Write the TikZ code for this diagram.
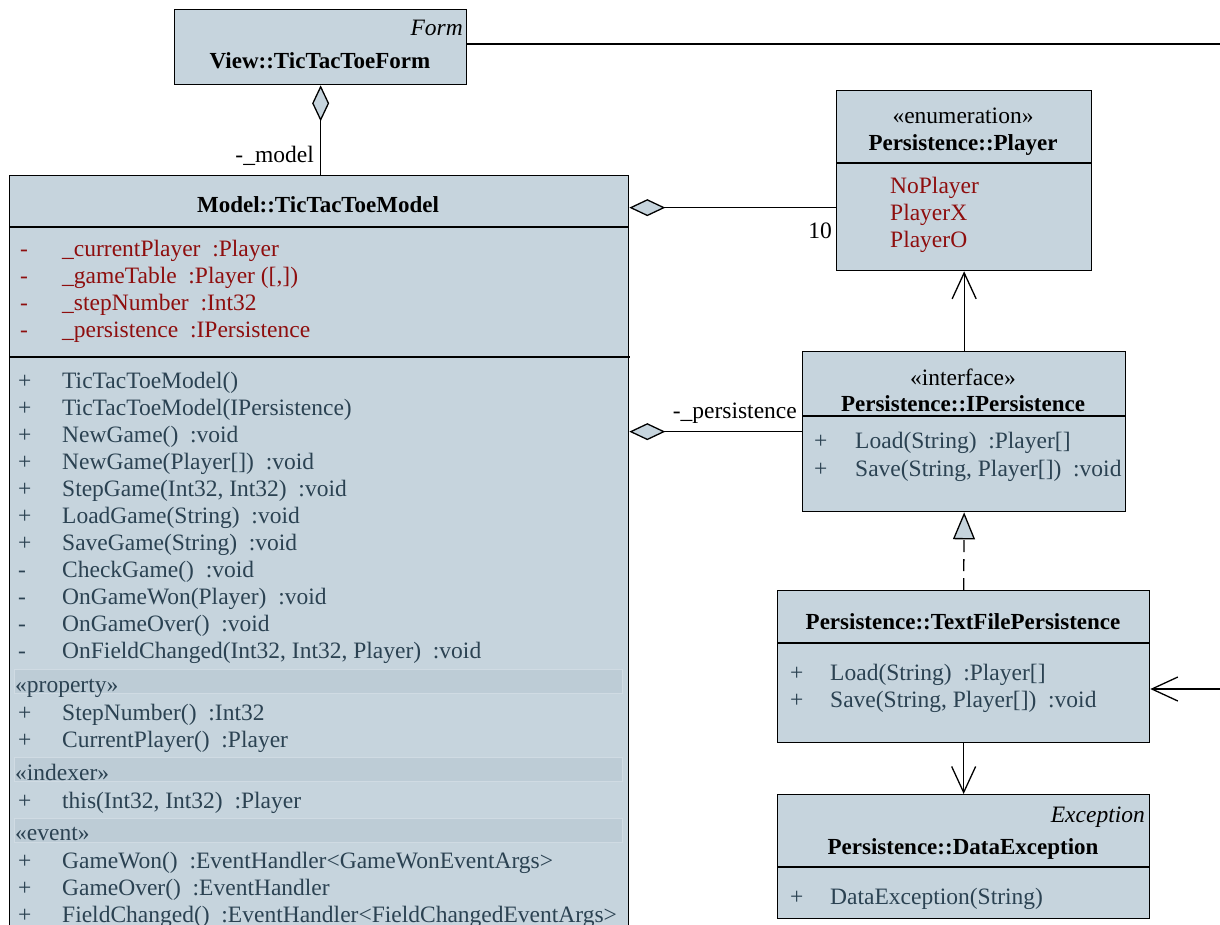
\documentclass[tikz,border=0pt]{standalone}
\usepackage{fontspec}
\newfontfamily\umlserif{LiberationSerif}[Extension=.ttf, UprightFont=*-Regular, BoldFont=*-Bold, ItalicFont=*-Italic, BoldItalicFont=*-BoldItalic]
\usetikzlibrary{arrows.meta}
\definecolor{umlfill}{HTML}{C6D4DD}
\definecolor{memc}{HTML}{2B4252}
\definecolor{attrc}{HTML}{8E0E0E}
\definecolor{barfill}{HTML}{BDCCD6}
\definecolor{barline}{HTML}{D0DBE3}
\tikzset{
  umlbox/.style={draw=black, fill=umlfill, line width=1.3pt, inner sep=0pt, anchor=north west},
  mem/.style={anchor=base west, inner sep=0pt, text=memc},
  attr/.style={anchor=base west, inner sep=0pt, text=attrc},
  ttl/.style={anchor=base, inner sep=0pt, font=\umlserif\fontsize{23}{27}\selectfont\bfseries},
  ster/.style={anchor=base, inner sep=0pt},
  lbl/.style={anchor=base east, inner sep=0pt},
  sep/.style={line width=1.3pt},
  conn/.style={line width=1.3pt},
  agg/.style={conn, {Diamond[length=36pt,width=17pt,fill=umlfill]}-},
  nav/.style={conn, -{Straight Barb[length=26pt,width=24pt]}},
  real/.style={conn, dash pattern=on 12pt off 7pt, -{Triangle[length=27pt,width=22pt,fill=umlfill]}},
  secbar/.style={draw=barline, fill=barfill, line width=0.8pt}
}
\begin{document}
\begin{tikzpicture}[x=1pt,y=-1pt,font=\umlserif\fontsize{23.5}{27}\selectfont]
\clip (0,0) rectangle (1220,924);
\fill[white] (0,0) rectangle (1220,924);

\node[umlbox, minimum width=292pt, minimum height=75pt] (form) at (174,9) {};
\node[umlbox, minimum width=619pt, minimum height=780pt] (model) at (9,175) {};
\node[umlbox, minimum width=255pt, minimum height=180pt] (player) at (836,90) {};
\node[umlbox, minimum width=323pt, minimum height=160pt] (ipers) at (802,351) {};
\node[umlbox, minimum width=372pt, minimum height=152pt] (tfp) at (777,590) {};
\node[umlbox, minimum width=372pt, minimum height=124pt] (dexc) at (777,794) {};

\node[lbl, font=\umlserif\fontsize{23.5}{27}\selectfont\itshape] (formster) at (463,35) {Form};
\node[ttl] (formttl) at (320,68) {View::TicTacToeForm};

\node[ttl] (modelttl) at (318,212) {Model::TicTacToeModel};
\draw[sep] (model.west |- 0,227) -- (model.east |- 0,227);
\foreach \yy/\nm/\tx in {256/a1/{\_currentPlayer\ \ :Player},283/a2/{\_gameTable\ \ :Player ([,])},310/a3/{\_stepNumber\ \ :Int32},337/a4/{\_persistence\ \ :IPersistence}}{
  \node[attr] (s\nm) at (20,\yy) {-};
  \node[attr] (\nm) at (62,\yy) {\tx};
}
\draw[sep] (model.west |- 0,357) -- (630,357);
\foreach \yy/\nm/\sg/\tx in {
  388/m1/+/{TicTacToeModel()},
  415/m2/+/{TicTacToeModel(IPersistence)},
  442/m3/+/{NewGame()\ \ :void},
  469/m4/+/{NewGame(Player[])\ \ :void},
  496/m5/+/{StepGame(Int32, Int32)\ \ :void},
  523/m6/+/{LoadGame(String)\ \ :void},
  550/m7/+/{SaveGame(String)\ \ :void},
  577/m8/-/{CheckGame()\ \ :void},
  604/m9/-/{OnGameWon(Player)\ \ :void},
  631/m10/-/{OnGameOver()\ \ :void},
  658/m11/-/{OnFieldChanged(Int32, Int32, Player)\ \ :void},
  720/p1/+/{StepNumber()\ \ :Int32},
  747/p2/+/{CurrentPlayer()\ \ :Player},
  808/i1/+/{this(Int32, Int32)\ \ :Player},
  868/e1/+/{GameWon()\ \ :EventHandler<GameWonEventArgs>},
  895/e2/+/{GameOver()\ \ :EventHandler},
  922/e3/+/{FieldChanged()\ \ :EventHandler<FieldChangedEventArgs>}}{
  \node[mem] (s\nm) at (18,\yy) {\sg};
  \node[mem] (\nm) at (62,\yy) {\tx};
}
\draw[secbar] (14,669) rectangle (622,693);
\node[mem] (stprop) at (15,692) {«property»};
\draw[secbar] (14,757) rectangle (622,781);
\node[mem] (stidx) at (15,780) {«indexer»};
\draw[secbar] (14,818) rectangle (622,842);
\node[mem] (stevt) at (15,840) {«event»};

\node[ster] (playerster) at (963,123) {«enumeration»};
\node[ttl] (playerttl) at (963,150) {Persistence::Player};
\draw[sep] (player.west |- 0,163) -- (player.east |- 0,163);
\node[attr] (np) at (890,193) {NoPlayer};
\node[attr] (px) at (890,220) {PlayerX};
\node[attr] (po) at (890,247) {PlayerO};

\node[ster] (ipster) at (963,385) {«interface»};
\node[ttl] (ipttl) at (963,411) {Persistence::IPersistence};
\draw[sep] (ipers.west |- 0,416) -- (ipers.east |- 0,416);
\node[mem] (ips1) at (814,448) {+};
\node[mem] (ipm1) at (855,448) {Load(String)\ \ :Player[]};
\node[mem] (ips2) at (814,476) {+};
\node[mem] (ipm2) at (855,476) {Save(String, Player[])\ \ :void};

\node[ttl] (tfpttl) at (963,629) {Persistence::TextFilePersistence};
\draw[sep] (tfp.west |- 0,643) -- (tfp.east |- 0,643);
\node[mem] (tfs1) at (790,680) {+};
\node[mem] (tfm1) at (830,680) {Load(String)\ \ :Player[]};
\node[mem] (tfs2) at (790,707) {+};
\node[mem] (tfm2) at (830,707) {Save(String, Player[])\ \ :void};

\node[lbl, font=\umlserif\fontsize{23.5}{27}\selectfont\itshape] (dster) at (1145,822) {Exception};
\node[ttl] (dttl) at (963,854) {Persistence::DataException};
\draw[sep] (dexc.west |- 0,867) -- (dexc.east |- 0,867);
\node[mem] (ds1) at (790,904) {+};
\node[mem] (dm1) at (830,904) {DataException(String)};

\coordinate (fr) at (1230,44);
\draw[conn] (form.east |- fr) -- (fr);

\draw[conn, -{Diamond[length=36pt,width=17pt,fill=umlfill]}] (model.north -| form.south) -- (form.south);
\node[lbl] (lmodel) at (314,162) {-\_model};

\path (player.west) ++(0,27) coordinate (pa);
\draw[agg] (model.east |- pa) -- (pa);
\node[lbl] (lten) at (832,238) {10};

\draw[agg] (model.east |- ipers.west) -- (ipers.west);
\node[lbl] (lpers) at (797,418) {-\_persistence};

\draw[nav] (ipers.north) -- (player.south);
\draw[real] (tfp.north) -- (ipers.south);

\coordinate (tr) at (1230,689);
\draw[nav] (tr) -- (tfp.east |- tr);
\draw[nav] (tfp.south) -- (dexc.north);
\end{tikzpicture}
\end{document}
